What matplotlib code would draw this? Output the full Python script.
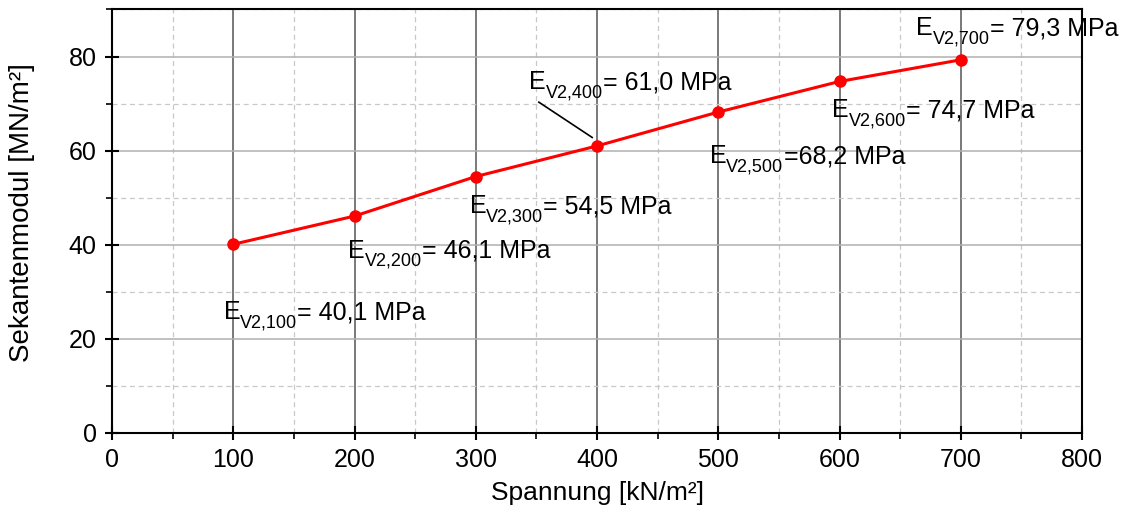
import matplotlib.pyplot as plt
from matplotlib.ticker import MultipleLocator
from matplotlib.transforms import offset_copy

plt.rcParams["font.family"] = ["Liberation Sans", "DejaVu Sans"]

spannung = [100, 200, 300, 400, 500, 600, 700]
modul = [40.1, 46.1, 54.5, 61.0, 68.2, 74.7, 79.3]
subs = ["V2,100", "V2,200", "V2,300", "V2,400", "V2,500", "V2,600", "V2,700"]
tails = ["= 40,1 MPa", "= 46,1 MPa", "= 54,5 MPa", "= 61,0 MPa",
         "=68,2 MPa", "= 74,7 MPa", "= 79,3 MPa"]
# text anchor (left, baseline) in data coords
label_pos = [(92, 24.2), (195, 37.2), (295, 46.7), (344, 73.0),
             (493, 57.3), (594, 67.1), (663, 84.5)]

fig = plt.figure(figsize=(11.33, 5.14), dpi=100)
ax = fig.add_axes([0.0989, 0.1576, 0.8561, 0.824])

ax.plot(spannung, modul, "-o", color="#ff0000", lw=2.2, ms=8, zorder=5)

renderer = fig.canvas.get_renderer()


def label(x, y, sub, tail):
    # E, lowered subscript, then the rest, placed one after another
    t = ax.text(x, y, "E", fontsize=18, va="baseline", zorder=6)
    w = t.get_window_extent(renderer).width
    tr = offset_copy(ax.transData, fig=fig, x=w, y=-8, units="dots")
    s = ax.text(x, y, sub, fontsize=13, va="baseline", transform=tr, zorder=6)
    w += s.get_window_extent(renderer).width
    tr = offset_copy(ax.transData, fig=fig, x=w, y=0, units="dots")
    ax.text(x, y, tail, fontsize=18, va="baseline", transform=tr, zorder=6)


for sub, tail, (tx, ty) in zip(subs, tails, label_pos):
    label(tx, ty, sub, tail)

# leader line for the 400 label
ax.plot([352, 396], [70.3, 62.8], color="black", lw=1.2, zorder=4)

ax.set_xlim(0, 800)
ax.set_ylim(0, 90)
ax.xaxis.set_major_locator(MultipleLocator(100))
ax.xaxis.set_minor_locator(MultipleLocator(50))
ax.yaxis.set_major_locator(MultipleLocator(20))
ax.yaxis.set_minor_locator(MultipleLocator(10))

ax.grid(which="major", axis="x", color="#555555", lw=1.1)
ax.grid(which="major", axis="y", color="#b0b0b0", lw=1.1)
ax.grid(which="minor", color="#c8c8c8", lw=0.9, ls=(0, (4, 3)))
ax.set_axisbelow(True)

ax.tick_params(which="major", direction="inout", length=10, width=1.5,
               labelsize=18, top=False, right=False, pad=6)
ax.tick_params(which="minor", direction="out", length=4, width=1.2,
               top=False, right=False)
for s in ax.spines.values():
    s.set_linewidth(1.5)

ax.set_xlabel("Spannung [kN/m²]", fontsize=19, labelpad=6)
ax.set_ylabel("Sekantenmodul [MN/m²]", fontsize=20)
ax.yaxis.set_label_coords(-0.079, 0.52)

fig.savefig("out.png", dpi=100)
